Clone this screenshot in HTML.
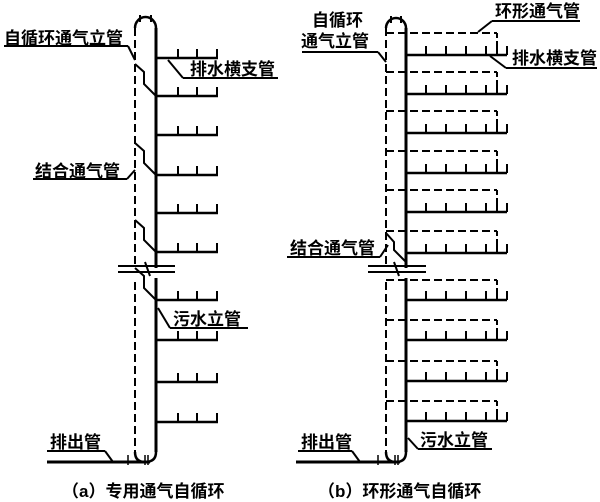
<!DOCTYPE html>
<html><head><meta charset="utf-8"><style>
html,body{margin:0;padding:0;background:#fff;}
svg{display:block;}
text{font-family:"Liberation Sans","Noto Sans CJK SC",sans-serif;font-weight:bold;fill:#000;}
</style></head><body>
<svg id="s" width="600" height="502" viewBox="0 0 600 502" xmlns="http://www.w3.org/2000/svg">
<g id="g" stroke="#000" fill="none"></g>
<text x="4" y="44" font-size="17">自循环通气立管</text>
<text x="190" y="75" font-size="17">排水横支管</text>
<text x="35" y="177" font-size="17">结合通气管</text>
<text x="173" y="325" font-size="17">污水立管</text>
<text x="50" y="448" font-size="17">排出管</text>
<text x="62" y="497" font-size="17">（a）专用通气自循环</text>
<text x="312" y="26" font-size="17">自循环</text>
<text x="301" y="47" font-size="17">通气立管</text>
<text x="495" y="17" font-size="17">环形通气管</text>
<text x="512" y="64" font-size="17">排水横支管</text>
<text x="290" y="254" font-size="17">结合通气管</text>
<text x="420" y="446" font-size="17">污水立管</text>
<text x="301" y="448" font-size="17">排出管</text>
<text x="318" y="497" font-size="17">（b）环形通气自循环</text>
</svg>
<script>
var g=document.getElementById('g'),h='';
function L(x1,y1,x2,y2,w,d){h+='<line x1="'+x1+'" y1="'+y1+'" x2="'+x2+'" y2="'+y2+'" stroke-width="'+(w||2)+'"'+(d?' stroke-dasharray="'+d+'"':'')+'/>';}
function P(p,w,d){h+='<path d="'+p+'" stroke-width="'+(w||2)+'"'+(d?' stroke-dasharray="'+d+'"':'')+'/>';}
var D='8,4';
// LEFT
var vx=135,sx=156;
P('M'+vx+' 28 A10.5 11 0 0 1 '+sx+' 28',2.5);
L(sx,28,sx,268,3);L(sx,278,sx,452,3);
L(vx,28,vx,265,2,D);L(vx,282,vx,455,2,D);
L(140,15,140,22,2);L(151,15,151,22,2);
[58,96,135,175,213,252,300,340,382,422].forEach(function(y){L(sx,y,218,y,2.5);[178,197,217].forEach(function(x){L(x,y-9,x,y,2);});});
[96,175,252,300].forEach(function(y){P('M'+vx+' '+(y-32)+' L144 '+(y-24)+' L144 '+(y-12)+' L'+sx+' '+y,2);});
P('M'+vx+' 452 Q'+vx+' 462 145 462 Q'+sx+' 462 '+sx+' 452',2.5);
L(47,462,150,462,3);
L(128,455,128,465,1.5);L(145,455,145,465,1.5);L(148,455,148,465,1.5);
L(118,266,175,266,2);L(118,272,175,272,2);L(145,262,150,276,2);
// leaders left
L(4,46,128,46,2);L(128,46,135,60,2);
L(183,78,278,78,2);L(183,78,168,60,2);
L(33,179,127,179,2);L(127,179,135,170,2);
L(170,328,248,328,2);L(170,328,158,308,2);
L(47,451,105,451,2);L(105,451,113,462,2);
// RIGHT
vx=386;sx=406;
P('M'+vx+' 28 A10 10 0 0 1 '+sx+' 28',2.5);
L(sx,28,sx,268,3);L(sx,278,sx,452,3);
L(vx,28,vx,265,2,D);L(vx,282,vx,455,2,D);
L(391,16,391,23,2);L(401,16,401,23,2);
var bs=[55,94,133,173,212,253,300,340,381,421];
bs.forEach(function(y,i){L(sx,y,507,y,2.5);[426,446,466,486,497,507].forEach(function(x){L(x,y-9,x,y,2);});
var dy=(i<6?y-22:y-20);L(vx,dy,497,dy,2,D);L(497,dy,497,y-3,2,'5,3');});
P('M'+vx+' 233 L394 242 L394 250 L'+sx+' 262',2);
P('M'+vx+' 452 Q'+vx+' 462 396 462 Q'+sx+' 462 '+sx+' 452',2.5);
L(296,462,400,462,3);
L(378,455,378,465,1.5);L(395,455,395,465,1.5);L(398,455,398,465,1.5);
L(368,266,426,266,2);L(368,272,426,272,2);L(394,262,399,276,2);
L(302,52,378,52,2);L(378,52,386,62,2);
L(492,21,580,21,2);L(492,21,478,32,2);
L(506,68,597,68,2);L(506,68,490,56,2);
L(287,257,380,257,2);L(380,257,388,245,2);
L(418,449,492,449,2);L(418,449,408,438,2);
L(298,451,352,451,2);L(352,451,360,462,2);
g.innerHTML=h;
</script>
</body></html>
